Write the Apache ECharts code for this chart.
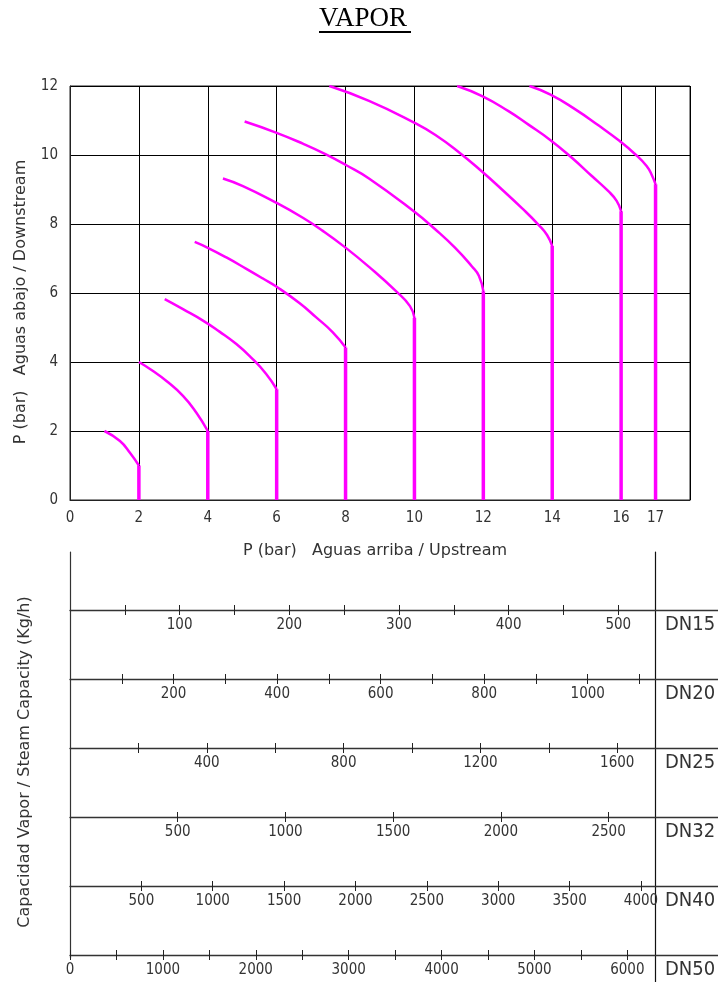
<!DOCTYPE html>
<html><head><meta charset="utf-8">
<script src="https://cdn.jsdelivr.net/npm/echarts@6/dist/echarts.min.js"></script>
<style>html,body{margin:0;padding:0;background:#fff}#c{width:718px;height:982px}</style>
</head><body><div id="c"></div>
<script>
// ---------------- DATA ----------------
const upstreamLabels = [0, 2, 4, 6, 8, 10, 12, 14, 16, 17];
const upstreamGridLines = [0, 2, 4, 6, 8, 10, 12, 14, 16, 17, 18];
const upstreamP = [2, 4, 6, 8, 10, 12, 14, 16, 17];
const chokeDownstreamP = [1.0, 2.0, 3.21, 4.42, 5.28, 6.05, 7.36, 8.37, 9.15];

const curveP2  = [[1.0,2.0],[1.45,1.71],[1.74,1.37],[2.0,1.0]];
const curveP4  = [[2.0,4.0],[2.41,3.74],[2.8,3.45],[3.28,3.02],[3.67,2.53],[4.0,2.0]];
const curveP6  = [[2.75,5.82],[3.28,5.53],[3.86,5.2],[4.34,4.88],[4.83,4.52],[5.26,4.13],[5.69,3.66],[6.0,3.21]];
const curveP8  = [[3.62,7.48],[4.0,7.31],[4.54,7.03],[5.12,6.7],[5.6,6.42],[6.0,6.18],[6.66,5.71],[7.14,5.3],[7.63,4.86],[8.0,4.42]];
const curveP10 = [[4.44,9.32],[5.02,9.10],[5.98,8.62],[6.76,8.18],[7.34,7.8],[7.98,7.33],[8.69,6.75],[9.48,6.04],[9.87,5.62],[10.0,5.28]];
const curveP12 = [[5.07,10.97],[5.98,10.65],[6.76,10.33],[7.43,10.02],[8.01,9.71],[8.68,9.32],[9.99,8.36],[10.61,7.84],[11.19,7.3],[11.67,6.77],[11.87,6.5],[12.0,6.05]];
const curveP14 = [[7.53,12.0],[8.68,11.57],[9.99,10.94],[10.61,10.58],[11.29,10.08],[11.96,9.52],[12.54,9.0],[13.12,8.46],[13.61,7.97],[13.85,7.68],[14.0,7.36]];
const curveP16 = [[11.24,12.0],[11.98,11.7],[12.73,11.27],[13.31,10.88],[13.95,10.43],[14.57,9.92],[15.15,9.39],[15.63,8.95],[15.87,8.67],[16.0,8.37]];
const curveP17 = [[13.34,12.0],[13.95,11.75],[14.66,11.33],[15.34,10.86],[15.95,10.41],[16.4,10.03],[16.74,9.68],[16.9,9.4],[17.0,9.15]];
const curves = [curveP2, curveP4, curveP6, curveP8, curveP10, curveP12, curveP14, curveP16, curveP17];

const downstreamTicks = [0, 2, 4, 6, 8, 10, 12];

const dnNames = ['DN15', 'DN20', 'DN25', 'DN32', 'DN40', 'DN50'];
const capacityAt17bar = [534, 1131, 1712, 2718, 4102, 6304];
const ticksDN15 = [50,100,150,200,250,300,350,400,450,500];
const ticksDN20 = [100,200,300,400,500,600,700,800,900,1000,1100];
const ticksDN25 = [200,400,600,800,1000,1200,1400,1600];
const ticksDN32 = [500,1000,1500,2000,2500];
const ticksDN40 = [500,1000,1500,2000,2500,3000,3500,4000];
const ticksDN50 = [0,500,1000,1500,2000,2500,3000,3500,4000,4500,5000,5500,6000];
const labelsDN15 = [100,200,300,400,500];
const labelsDN20 = [200,400,600,800,1000];
const labelsDN25 = [400,800,1200,1600];
const labelsDN32 = [500,1000,1500,2000,2500];
const labelsDN40 = [500,1000,1500,2000,2500,3000,3500,4000];
const labelsDN50 = [0,1000,2000,3000,4000,5000,6000];
const dnTicks = [ticksDN15, ticksDN20, ticksDN25, ticksDN32, ticksDN40, ticksDN50];
const dnLabels = [labelsDN15, labelsDN20, labelsDN25, labelsDN32, labelsDN40, labelsDN50];

// ---------------- LAYOUT ----------------
const NARROW = "'Liberation Sans Narrow', 'DejaVu Sans Condensed', 'Arial Narrow', sans-serif";
const NAMEF = "'DejaVu Sans', sans-serif";
const TXT = '#333';
const plotLeft = 70, plotTop = 86, plotW = 620, plotH = 414, xMax = 18;
const pxPerBar = plotW / xMax;
const rowTop = [610, 679, 748, 817, 886, 955];
const rowRight = 718;
const rowW = rowRight - plotLeft;
const plain = (v) => String(v);

const grids = [
  {left: plotLeft, top: plotTop, width: plotW, height: plotH, show: true, borderColor: '#222', borderWidth: 1, backgroundColor: 'transparent'},
  {left: plotLeft, top: 552, width: 585, height: 406},
  {left: plotLeft, top: 552, width: 585, height: 430}
];
const xAxes = [
  {gridIndex: 0, type: 'value', min: 0, max: xMax,
   axisLine: {show: true, lineStyle: {color: '#222', width: 1}},
   axisTick: {show: false, customValues: upstreamGridLines},
   axisLabel: {customValues: upstreamLabels, margin: 11, fontFamily: NARROW, fontSize: 15, color: TXT, formatter: plain},
   splitLine: {show: true, lineStyle: {color: '#000', width: 1}},
   name: 'P (bar)   Aguas arriba / Upstream', nameLocation: 'middle', nameGap: 43,
   nameTextStyle: {fontFamily: NAMEF, fontSize: 16, color: TXT, padding: [0, 10, 0, 0]}},
  {gridIndex: 1, type: 'value', min: 0, max: 1, show: false},
  {gridIndex: 2, type: 'value', min: 0, max: 1, show: false}
];
const yAxes = [
  {gridIndex: 0, type: 'value', min: 0, max: 12, interval: 2,
   axisLine: {show: true, lineStyle: {color: '#222'}}, axisTick: {show: false},
   axisLabel: {customValues: downstreamTicks, margin: 12, fontFamily: NARROW, fontSize: 15, color: TXT, formatter: plain},
   splitLine: {show: true, lineStyle: {color: '#000', width: 1}},
   name: 'P (bar)   Aguas abajo / Downstream', nameLocation: 'middle', nameGap: 41,
   nameTextStyle: {fontFamily: NAMEF, fontSize: 16, color: TXT, padding: [0, 18, 0, 0]}},
  {gridIndex: 1, type: 'value', position: 'left', min: 0, max: 1,
   axisLine: {show: true, onZero: false, lineStyle: {color: '#333', width: 1.2}}, axisTick: {show: false}, axisLabel: {show: false}, splitLine: {show: false},
   name: 'Capacidad Vapor / Steam Capacity (Kg/h)', nameLocation: 'middle', nameGap: 37,
   nameTextStyle: {fontFamily: NAMEF, fontSize: 16, color: TXT, padding: [0, 14, 0, 0]}},
  {gridIndex: 2, type: 'value', position: 'right', min: 0, max: 1,
   axisLine: {show: true, onZero: false, lineStyle: {color: '#111', width: 1.2}}, axisTick: {show: false}, axisLabel: {show: false}, splitLine: {show: false}}
];
const graphics = [
  {type: 'line', shape: {x1: 319, y1: 32, x2: 411, y2: 32}, style: {stroke: '#000', lineWidth: 2}}
];

dnNames.forEach((nm, i) => {
  const gi = grids.length;
  grids.push({left: plotLeft, right: 0, top: rowTop[i], height: 0});
  const max = capacityAt17bar[i] / 17 * (rowW / pxPerBar);
  xAxes.push({gridIndex: gi, type: 'value', position: 'bottom', min: 0, max: max,
    axisLine: {show: true, onZero: false, lineStyle: {color: '#333', width: 1.3}},
    axisTick: {show: true, customValues: dnTicks[i], length: 5, lineStyle: {color: '#222', width: 1}},
    axisLabel: {customValues: dnLabels[i], margin: 8, fontFamily: NARROW, fontSize: 15, color: TXT, formatter: plain},
    splitLine: {show: false}});
  xAxes.push({gridIndex: gi, type: 'value', position: 'top', min: 0, max: max,
    axisLine: {show: false, onZero: false},
    axisTick: {show: true, customValues: dnTicks[i], length: 5, lineStyle: {color: '#222', width: 1}},
    axisLabel: {show: false}, splitLine: {show: false}});
  yAxes.push({gridIndex: gi, type: 'value', min: 0, max: 1, show: false});
  graphics.push({type: 'text', left: 665, top: rowTop[i] + 5,
    style: {text: nm, fontFamily: NARROW, fontSize: 20, fill: TXT}});
});

const series = [];
curves.forEach((c) => {
  series.push({type: 'line', xAxisIndex: 0, yAxisIndex: 0, data: c, symbol: 'none',
    smooth: 0.5, silent: true,
    lineStyle: {color: '#ff00ff', width: 2.5}});
});
upstreamP.forEach((p, i) => {
  series.push({type: 'line', xAxisIndex: 0, yAxisIndex: 0, data: [[p, 0], [p, chokeDownstreamP[i]]],
    symbol: 'none', silent: true, lineStyle: {color: '#ff00ff', width: 3.5}});
});

const chart = echarts.init(document.getElementById('c'), null, {renderer: 'canvas'});
chart.setOption({
  animation: false,
  backgroundColor: '#fff',
  title: {text: 'VAPOR', left: 319, top: 5, padding: 0,
    textStyle: {fontFamily: "'Liberation Serif', 'Times New Roman', serif", fontSize: 27, fontWeight: 'normal', color: '#000'}},
  grid: grids, xAxis: xAxes, yAxis: yAxes, series: series, graphic: graphics
});
</script></body></html>
